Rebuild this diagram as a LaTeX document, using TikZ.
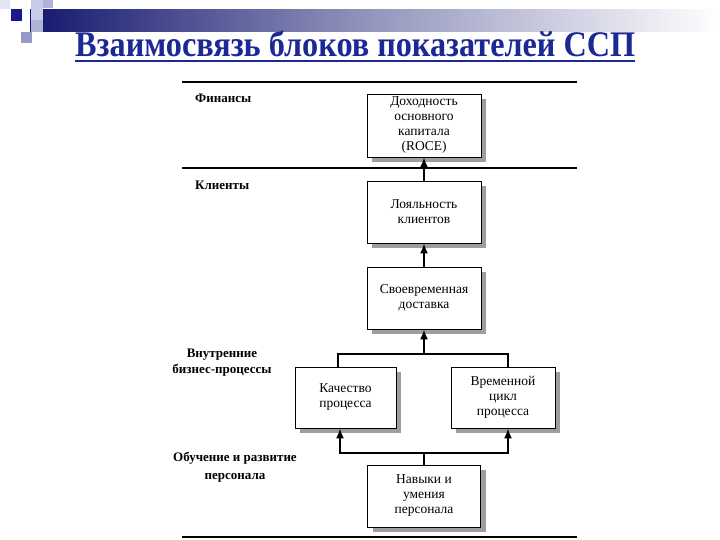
\documentclass[tikz,border=0pt]{standalone}
\usepackage{fontspec}
\setmainfont{Liberation Serif}
\usepackage{graphicx}
\usetikzlibrary{arrows.meta,shadows}
\definecolor{titleblue}{RGB}{28,40,150}
\definecolor{navybar}{RGB}{20,24,110}
\definecolor{lav1}{RGB}{228,228,242}
\definecolor{lav2}{RGB}{200,202,230}
\definecolor{lav3}{RGB}{176,178,216}
\definecolor{lav4}{RGB}{150,152,200}
\definecolor{sqblue}{RGB}{24,24,140}
\tikzset{
  boxnode/.style={draw=black, line width=0.9pt, fill=white, align=center,
    font=\fontsize{13.5}{15}\selectfont, inner sep=1pt,
    drop shadow={shadow xshift=5pt, shadow yshift=-5pt, fill=black!38, opacity=1}},
  lbl/.style={font=\bfseries\fontsize{13}{18}\selectfont, align=center, inner sep=0pt},
  sep/.style={line width=1.2pt},
  conn/.style={line width=1.6pt},
  arr/.style={line width=1.6pt, -{Latex[length=10pt,width=8pt]}}
}
\begin{document}
\begin{tikzpicture}[x=1pt,y=-1pt]
\useasboundingbox (0,0) rectangle (720,540);
% header decoration
\shade[left color=navybar, right color=white, middle color=navybar!45] (30,10) rectangle (720,32);
\fill[lav1] (0,0) rectangle (10,9);
\fill[lav2] (31,0) rectangle (43,20);
\fill[lav3] (43,0) rectangle (53,8);
\fill[lav3] (31,20) rectangle (43,32);
\fill[sqblue] (11,9) rectangle (22,21);
\fill[lav4] (21,32) rectangle (32,43);
% title
\node[anchor=base west, inner sep=0pt, text=titleblue] (title) at (75,57)
  {\resizebox{560pt}{\height}{\fontsize{36}{40}\selectfont\bfseries Взаимосвязь блоков показателей ССП}};
\draw[titleblue, line width=1.8pt] (title.base west) ++(0,4) -- ++(560,0);
% separators
\coordinate (s1a) at (182,82);  \coordinate (s1b) at (577,82);
\coordinate (s2a) at (182,168); \coordinate (s2b) at (577,168);
\coordinate (s3a) at (182,537); \coordinate (s3b) at (577,537);
\draw[sep] (s1a) -- (s1b);
\draw[sep] (s2a) -- (s2b);
\draw[sep] (s3a) -- (s3b);
% labels
\node[lbl, anchor=west] (lf) at (195,98) {Финансы};
\node[lbl, anchor=west] (lk) at (195,185) {Клиенты};
\node[lbl, font=\bfseries\fontsize{13}{16}\selectfont] (lv) at (222,363) {Внутренние\\бизнес-процессы};
\node[lbl] (lo) at (235,467) {Обучение и развитие\\персонала};
% boxes
\node[boxnode, minimum width=114pt, minimum height=63pt] (b1) at (424,125.5)
  {Доходность\\основного\\капитала\\(ROCE)};
\node[boxnode, minimum width=114pt, minimum height=62pt] (b2) at (424,212)
  {Лояльность\\клиентов};
\node[boxnode, minimum width=114pt, minimum height=62pt] (b3) at (424,298)
  {Своевременная\\доставка};
\node[boxnode, minimum width=101pt, minimum height=61pt] (b4) at (345.5,397.5)
  {Качество\\процесса};
\node[boxnode, minimum width=104pt, minimum height=61pt] (b5) at (503,397.5)
  {Временной\\цикл\\процесса};
\node[boxnode, minimum width=113pt, minimum height=62pt] (b6) at (424,496)
  {Навыки и\\умения\\персонала};
% connectors
\draw[arr] (b2.north) -- (b1.south);
\draw[arr] (b3.north) -- (b2.south);
\coordinate (j1) at (424,354);
\draw[conn] ([xshift=-7.5pt]b4.north) |- (j1) -| ([xshift=5pt]b5.north);
\draw[arr] (j1) -- (b3.south);
\coordinate (j2) at (424,453);
\draw[conn] (b6.north) -- (j2);
\draw[arr] (j2) -| ([xshift=-5.5pt]b4.south);
\draw[arr] (j2) -| ([xshift=5pt]b5.south);
\end{tikzpicture}
\end{document}
